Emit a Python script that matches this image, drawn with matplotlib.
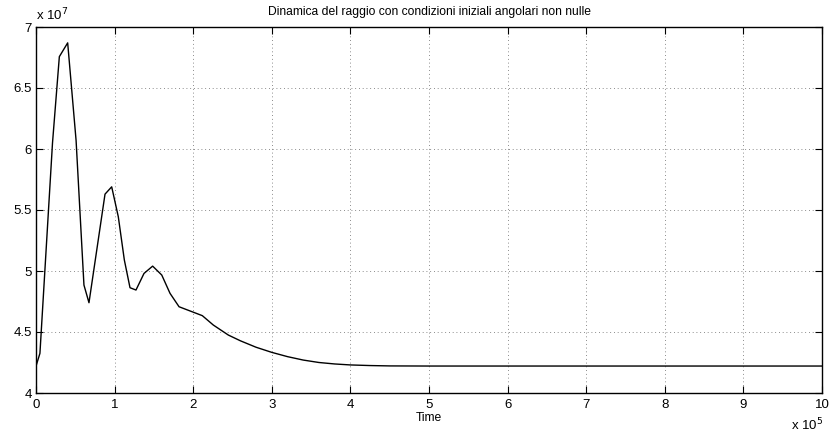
import matplotlib
matplotlib.use("Agg")
import matplotlib.pyplot as plt
import numpy as np

plt.rcParams['font.family'] = ['Liberation Sans', 'DejaVu Sans']

# time in units of 1e5, radius in units of 1e7
time = [0.0, 0.05, 0.21, 0.297, 0.403, 0.51, 0.61, 0.674, 0.878, 0.963, 1.047,
        1.124, 1.196, 1.272, 1.374, 1.484, 1.6, 1.705, 1.82, 2.116, 2.256,
        2.447, 2.6, 2.8, 3.0, 3.2, 3.4, 3.6, 3.8, 4.0, 4.25, 4.5, 5.0, 6.0,
        7.0, 8.0, 9.0, 10.0]
radius = [4.22, 4.325, 6.05, 6.757, 6.87, 6.07, 4.885, 4.74, 5.63, 5.69, 5.445,
          5.09, 4.863, 4.844, 4.98, 5.04, 4.967, 4.817, 4.707, 4.634, 4.557,
          4.475, 4.428, 4.375, 4.333, 4.298, 4.27, 4.25, 4.238, 4.23, 4.225,
          4.222, 4.221, 4.221, 4.221, 4.221, 4.221, 4.221]

xticks = list(range(0, 11))
yticks = [4, 4.5, 5, 5.5, 6, 6.5, 7]
yticklabels = ['4', '4.5', '5', '5.5', '6', '6.5', '7']

fig = plt.figure(figsize=(8.33, 4.36), dpi=100)
ax = fig.add_axes([36 / 833, 1 - 393 / 436, 786 / 833, 366 / 436])

ax.plot(time, radius, color='black', linewidth=1.0)
ax.set_xlim(0, 10)
ax.set_ylim(4, 7)
ax.set_xticks(xticks)
ax.set_xticklabels([str(t) for t in xticks])
ax.set_yticks(yticks)
ax.set_yticklabels(yticklabels)
ax.tick_params(direction='in', length=5, width=0.8, top=True, right=True,
               labelsize=9.5, colors='black')
ax.tick_params(axis='x', pad=4)
ax.tick_params(axis='y', pad=3)
ax.grid(True, linestyle=(0, (1, 3.5)), color='#666666', linewidth=0.6)
for sp in ax.spines.values():
    sp.set_linewidth(1.0)

ax.set_title('Dinamica del raggio con condizioni iniziali angolari non nulle',
             fontsize=8.7, pad=9)
ax.set_xlabel('Time', fontsize=8.7, labelpad=1)

fig.text(36 / 833, 1 - 23 / 436, r'x 10$^{7}$', fontsize=9.5, ha='left', va='bottom')
fig.text(823 / 833, 1 - 433 / 436, r'x 10$^{5}$', fontsize=9.5, ha='right', va='bottom')

fig.savefig('out.png', dpi=100)
